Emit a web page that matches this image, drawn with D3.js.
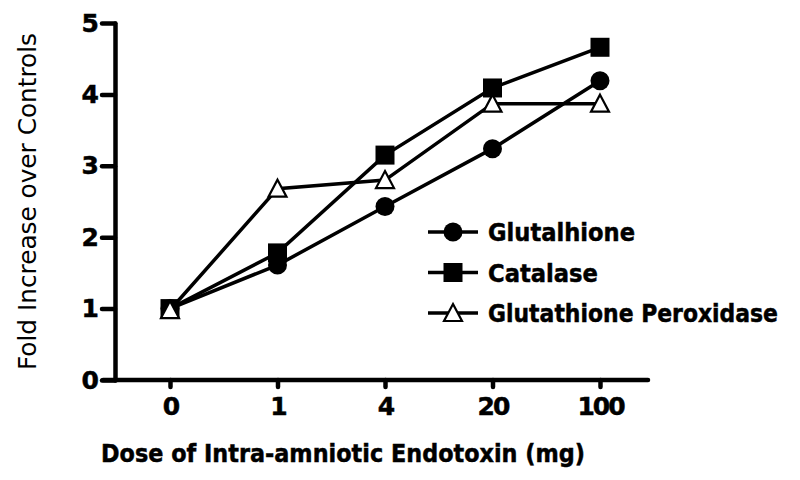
<!DOCTYPE html>
<meta charset="utf-8">
<style>
body { margin: 0; background: #fff; }
text { font-family: "DejaVu Sans", sans-serif; fill: #000; }
.axis path, .axis line { stroke: #000; stroke-width: 4.5px; stroke-linecap: round; fill: none; }
.axis text { font-size: 25px; font-weight: bold; letter-spacing: -2px; stroke: #000; stroke-width: 0.5px; }
.line { fill: none; stroke: #000; stroke-width: 3.5px; }
.legend text { font-size: 25px; font-weight: bold; stroke: #000; stroke-width: 0.5px; }
</style>
<body>
<script src="https://d3js.org/d3.v7.min.js"></script>
<script>
// doses (x categories) and y ticks
var doses = ["0", "1", "4", "20", "100"];
var yTicks = [0, 1, 2, 3, 4, 5];

// series values
var glutalhione = [1.0, 1.61, 2.43, 3.24, 4.19];
var catalase = [1.0, 1.78, 3.15, 4.09, 4.66];
var gpx = [0.98, 2.68, 2.80, 3.87, 3.87];

var seriesNames = ["Glutalhione", "Catalase", "Glutathione Peroxidase"];
var seriesShapes = ["circle", "square", "triangle"];

var width = 800, height = 480;
var plotLeft = 115, plotRight = 648, plotTop = 23, plotBottom = 380;

var svg = d3.select("body").append("svg")
    .attr("width", width)
    .attr("height", height);

// scales
var x = d3.scalePoint().domain(doses).range([170, 600]);
var y = d3.scaleLinear().domain([0, 5]).range([plotBottom, plotTop]);

// y axis
var yAxis = svg.append("g")
    .attr("class", "axis")
    .attr("transform", "translate(" + plotLeft + ",0)")
    .call(d3.axisLeft(y).tickValues(yTicks).tickFormat(d3.format("d"))
      .tickSize(13).tickSizeOuter(0).tickPadding(5));

// x axis (domain line drawn separately so it spans the plot)
var xAxis = svg.append("g")
    .attr("class", "axis")
    .attr("transform", "translate(0," + plotBottom + ")")
    .call(d3.axisBottom(x).tickSize(7).tickSizeOuter(0).tickPadding(10));
xAxis.select(".domain").remove();
xAxis.append("line")
    .attr("x1", plotLeft - 12).attr("x2", plotRight)
    .attr("y1", 0).attr("y2", 0);

svg.selectAll(".axis text").attr("fill", "#000");

// axis titles
svg.append("text")
    .attr("x", 101)
    .attr("y", 462)
    .attr("textLength", 484)
    .attr("lengthAdjust", "spacingAndGlyphs")
    .style("font-size", "25px")
    .style("font-weight", "bold")
    .style("stroke", "#000")
    .style("stroke-width", "0.5px")
    .text("Dose of Intra-amniotic Endotoxin (mg)");

svg.append("text")
    .attr("transform", "translate(36,370) rotate(-90)")
    .attr("textLength", 337)
    .attr("lengthAdjust", "spacingAndGlyphs")
    .style("font-size", "25px")
    .text("Fold Increase over Controls");

// data
var series = [glutalhione, catalase, gpx].map(function(vals, i) {
  return {
    name: seriesNames[i],
    shape: seriesShapes[i],
    values: vals.map(function(v, j) { return {dose: doses[j], value: v}; })
  };
});

var line = d3.line()
    .x(function(d) { return x(d.dose); })
    .y(function(d) { return y(d.value); });

svg.selectAll(".line")
    .data(series)
  .enter().append("path")
    .attr("class", "line")
    .attr("d", function(d) { return line(d.values); });

function drawMarker(g, shape) {
  if (shape === "circle") {
    g.append("circle").attr("r", 9.5).attr("fill", "#000");
  } else if (shape === "square") {
    g.append("rect").attr("x", -9.5).attr("y", -9.5)
      .attr("width", 19).attr("height", 19).attr("fill", "#000");
  } else {
    g.append("path").attr("d", "M0,-9 L9,8 L-9,8 Z")
      .attr("fill", "#fff").attr("stroke", "#000").attr("stroke-width", 2.2);
  }
}

series.forEach(function(s) {
  s.values.forEach(function(d) {
    var g = svg.append("g")
        .attr("transform", "translate(" + x(d.dose) + "," + y(d.value) + ")");
    drawMarker(g, s.shape);
  });
});

// legend
var legendWidths = [147, 110, 290];
var legend = svg.append("g").attr("class", "legend")
    .attr("transform", "translate(428,232)");

series.forEach(function(s, i) {
  var row = legend.append("g").attr("transform", "translate(0," + (i * 40.5) + ")");
  row.append("line")
      .attr("x1", 0).attr("x2", 50)
      .attr("stroke", "#000").attr("stroke-width", 3.5);
  drawMarker(row.append("g").attr("transform", "translate(25,0)"), s.shape);
  row.append("text")
      .attr("x", 60)
      .attr("y", 9)
      .attr("textLength", legendWidths[i])
      .attr("lengthAdjust", "spacingAndGlyphs")
      .text(s.name);
});
</script>
</body>
